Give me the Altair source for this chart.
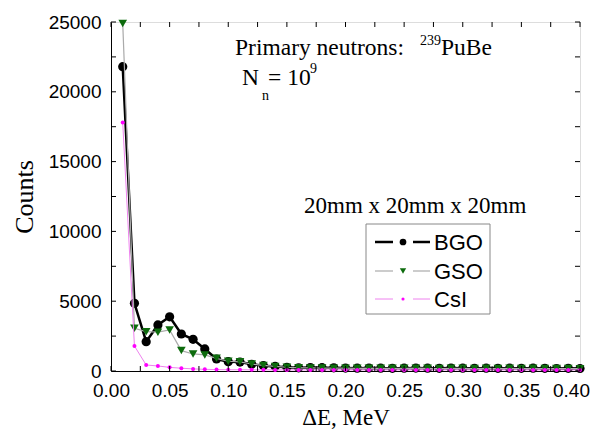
import altair as alt
import pandas as pd

# ---- data ----
energy = [0.01, 0.02, 0.03, 0.04, 0.05, 0.06, 0.07, 0.08, 0.09, 0.10,
          0.11, 0.12, 0.13, 0.14, 0.15, 0.16, 0.17, 0.18, 0.19, 0.20,
          0.21, 0.22, 0.23, 0.24, 0.25, 0.26, 0.27, 0.28, 0.29, 0.30,
          0.31, 0.32, 0.33, 0.34, 0.35, 0.36, 0.37, 0.38, 0.39, 0.40]
bgo = [21800, 4850, 2100, 3300, 3880, 2650, 2270, 1580, 860, 670,
       640, 480, 380, 330, 260, 230, 250, 240, 230, 210,
       200, 210, 200, 190, 200, 210, 200, 190, 210, 200,
       190, 200, 190, 200, 190, 200, 190, 180, 190, 180]
gso = [24900, 3060, 2820, 2780, 2940, 1460, 1220, 1150, 910, 700,
       660, 500, 400, 330, 270, 230, 220, 210, 200, 200,
       190, 200, 190, 190, 190, 200, 190, 180, 190, 190,
       180, 190, 180, 190, 180, 190, 180, 180, 180, 170]
csi = [17800, 1790, 430, 360, 260, 200, 150, 120, 100, 90,
       90, 85, 85, 80, 80, 80, 80, 80, 80, 80,
       80, 80, 80, 80, 80, 80, 80, 80, 80, 80,
       80, 80, 80, 80, 80, 80, 80, 80, 80, 80]

x_label_values = [0.0, 0.05, 0.10, 0.15, 0.20, 0.25, 0.30, 0.35, 0.40]
x_tick_values = [0.0, 0.025, 0.05, 0.075, 0.10, 0.125, 0.15, 0.175, 0.20,
                 0.225, 0.25, 0.275, 0.30, 0.325, 0.35, 0.375, 0.40]
y_label_values = [0, 5000, 10000, 15000, 20000, 25000]
y_tick_values = [0, 2500, 5000, 7500, 10000, 12500, 15000, 17500, 20000, 22500, 25000]

series_names = ["BGO", "GSO", "CsI"]

W, H = 469, 349
SERIF = "Liberation Serif"
SANS = "Liberation Sans"

df = pd.DataFrame({"E": energy, "BGO": bgo, "GSO": gso, "CsI": csi})

xs = alt.Scale(domain=[0, 0.4], nice=False, zero=False)
ys = alt.Scale(domain=[0, 25000], nice=False)

xaxis = alt.Axis(values=x_label_values, format=".2f", ticks=False, grid=False,
                 domainColor="black", labelFont=SANS, labelFontSize=19,
                 labelFontWeight="normal", labelFlush=False, labelOverlap=False,
                 # the last x label sits a little left of its tick in the reference
                 labelOffset={"condition": {"test": "datum.value > 0.399", "value": -9},
                              "value": 0},
                 labelColor="black", labelPadding=10, title="ΔE, MeV",
                 titleFont=SERIF, titleFontSize=23, titleFontWeight="normal",
                 titleColor="black", titlePadding=6)
yaxis = alt.Axis(values=y_label_values, format="d", ticks=False, grid=False,
                 domainColor="black", labelFont=SANS, labelFontSize=19,
                 labelFontWeight="normal", labelFlush=False, labelOverlap=False,
                 labelColor="black", labelPadding=10, title="Counts",
                 titleFont=SERIF, titleFontSize=26, titleFontWeight="normal",
                 titleColor="black", titlePadding=11)


def X(field):
    return alt.X(field, scale=xs, axis=xaxis)


def Y(field):
    return alt.Y(field, scale=ys, axis=yaxis)


base = alt.Chart(df)

styles = {
    "BGO": dict(line="black", lw=2.5, pt="black", shape="circle", size=85),
    "GSO": dict(line="#aaaaaa", lw=1.2, pt="#0d6b0d", shape="triangle-down", size=75),
    "CsI": dict(line="#ee82ee", lw=1.0, pt="#ff00ff", shape="circle", size=16),
}

layers = []
for name in series_names:
    st = styles[name]
    layers.append(base.mark_line(color=st["line"], strokeWidth=st["lw"], clip=False)
                  .encode(x=X("E:Q"), y=Y(f"{name}:Q")))
    layers.append(base.mark_point(filled=True, color=st["pt"], shape=st["shape"],
                                  size=st["size"], opacity=1, clip=False)
                  .encode(x=X("E:Q"), y=Y(f"{name}:Q")))

# inside ticks on all four sides
xt = alt.Chart(pd.DataFrame({"t": x_tick_values}))
yt = alt.Chart(pd.DataFrame({"t": y_tick_values}))
layers.append(xt.mark_rule(color="black").encode(
    x=X("t:Q"), y=alt.value(H), y2=alt.value(H - 5)))
layers.append(xt.mark_rule(color="black").encode(
    x=X("t:Q"), y=alt.value(0), y2=alt.value(5)))
layers.append(yt.mark_rule(color="black").encode(
    y=Y("t:Q"), x=alt.value(0), x2=alt.value(5)))
layers.append(yt.mark_rule(color="black").encode(
    y=Y("t:Q"), x=alt.value(W), x2=alt.value(W - 5)))

one = alt.Chart(pd.DataFrame({"d": [0]}))


def txt(s, x, y, size, font=SERIF, align="left"):
    return one.mark_text(text=s, font=font, fontSize=size, align=align,
                         baseline="alphabetic", color="black").encode(
        x=alt.value(x), y=alt.value(y))


# annotations (plot-area pixel coordinates)
layers += [
    txt("Primary neutrons:", 124, 33, 23.5),
    txt("239", 309, 23, 14),
    txt("PuBe", 330, 33, 23.5),
    txt("N", 131, 63, 23.5),
    txt("n", 151, 78, 14),
    txt("= 10", 157, 63, 23.5),
    txt("9", 199, 51, 14),
    txt("20mm x 20mm x 20mm", 193, 191, 23),
]

# legend box
layers.append(one.mark_rect(fill="white", stroke="#888888", strokeWidth=1).encode(
    x=alt.value(255), x2=alt.value(379), y=alt.value(202), y2=alt.value(292)))
legend_rows = [220, 249, 277]
legend_pt_size = {"BGO": 45, "GSO": 40, "CsI": 10}
for name, ry in zip(series_names, legend_rows):
    st = styles[name]
    for x1, x2 in [(264, 282), (302, 319)]:
        layers.append(one.mark_rule(color=st["line"], strokeWidth=st["lw"]).encode(
            x=alt.value(x1), x2=alt.value(x2), y=alt.value(ry)))
    layers.append(one.mark_point(filled=True, color=st["pt"], shape=st["shape"],
                                 size=legend_pt_size[name], opacity=1).encode(
        x=alt.value(292), y=alt.value(ry)))
    layers.append(txt(name, 323, ry + 8, 22, font=SANS))

chart = alt.layer(*layers).properties(
    width=W, height=H,
    autosize=alt.AutoSizeParams(type="none"),
    padding={"left": 103, "top": 14, "right": 12, "bottom": 58},
).configure_view(stroke="black", strokeWidth=1).configure(background="white")

chart.save("out.html", embed_options={"renderer": "svg", "actions": False})
